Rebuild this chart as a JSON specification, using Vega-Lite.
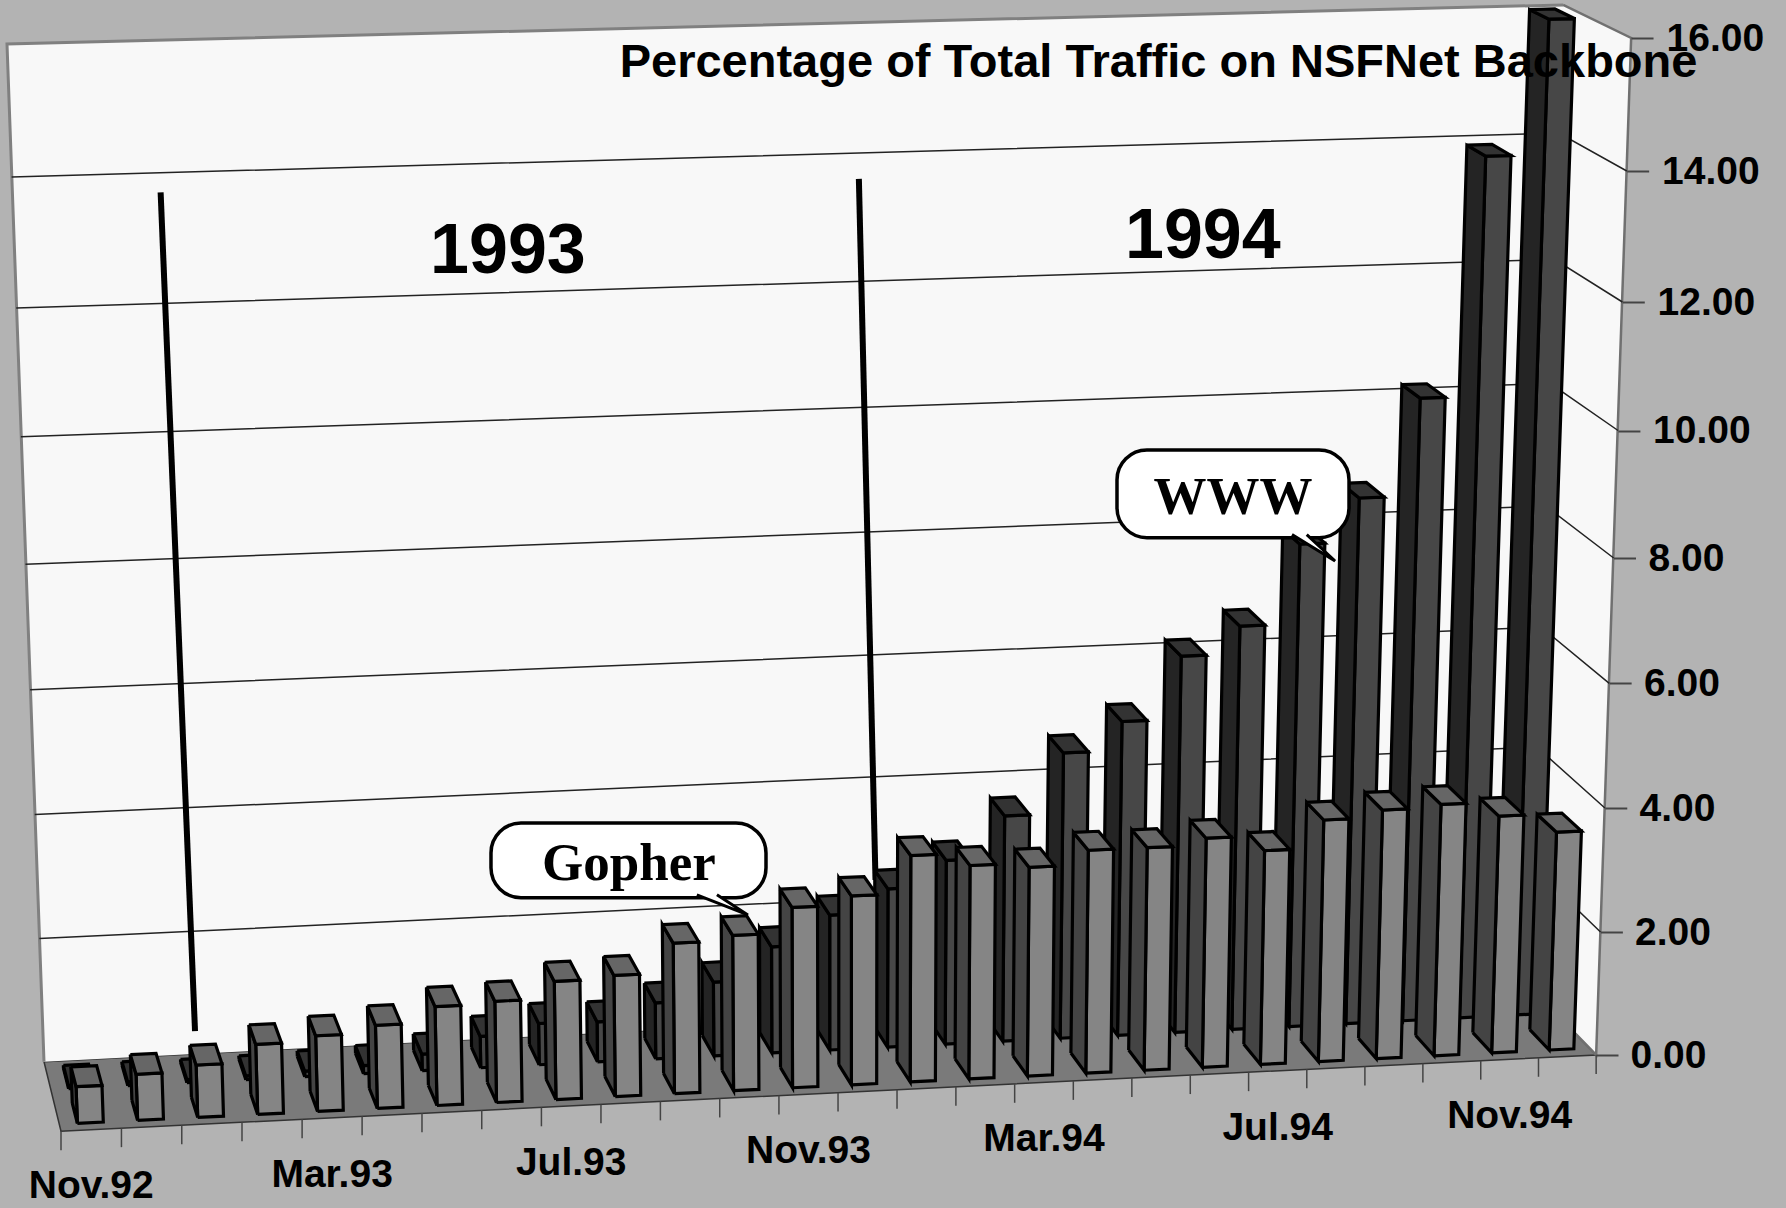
{"$schema":"https://vega.github.io/schema/vega-lite/v6.json","autosize":"none","padding":0,"width":1786,"height":1208,"background":"#b3b3b3","view":{"stroke":null},
"datasets":{"traffic":[
{"month":"Nov.92","idx":0,"series":"WWW","value":0.05},{"month":"Dec.92","idx":1,"series":"WWW","value":0.06},{"month":"Jan.93","idx":2,"series":"WWW","value":0.05},{"month":"Feb.93","idx":3,"series":"WWW","value":0.06},{"month":"Mar.93","idx":4,"series":"WWW","value":0.09},{"month":"Apr.93","idx":5,"series":"WWW","value":0.13},{"month":"May.93","idx":6,"series":"WWW","value":0.27},{"month":"Jun.93","idx":7,"series":"WWW","value":0.51},{"month":"Jul.93","idx":8,"series":"WWW","value":0.67},{"month":"Aug.93","idx":9,"series":"WWW","value":0.65},{"month":"Sep.93","idx":10,"series":"WWW","value":0.91},{"month":"Oct.93","idx":11,"series":"WWW","value":1.2},{"month":"Nov.93","idx":12,"series":"WWW","value":1.73},{"month":"Dec.93","idx":13,"series":"WWW","value":2.2},{"month":"Jan.94","idx":14,"series":"WWW","value":2.58},{"month":"Feb.94","idx":15,"series":"WWW","value":3.0},{"month":"Mar.94","idx":16,"series":"WWW","value":3.68},{"month":"Apr.94","idx":17,"series":"WWW","value":4.66},{"month":"May.94","idx":18,"series":"WWW","value":5.13},{"month":"Jun.94","idx":19,"series":"WWW","value":6.15},{"month":"Jul.94","idx":20,"series":"WWW","value":6.6},{"month":"Aug.94","idx":21,"series":"WWW","value":7.89},{"month":"Sep.94","idx":22,"series":"WWW","value":8.59},{"month":"Oct.94","idx":23,"series":"WWW","value":10.15},{"month":"Nov.94","idx":24,"series":"WWW","value":13.92},{"month":"Dec.94","idx":25,"series":"WWW","value":16.0},
{"month":"Nov.92","idx":0,"series":"Gopher","value":0.58},{"month":"Dec.92","idx":1,"series":"Gopher","value":0.73},{"month":"Jan.93","idx":2,"series":"Gopher","value":0.83},{"month":"Feb.93","idx":3,"series":"Gopher","value":1.11},{"month":"Mar.93","idx":4,"series":"Gopher","value":1.2},{"month":"Apr.93","idx":5,"series":"Gopher","value":1.32},{"month":"May.93","idx":6,"series":"Gopher","value":1.57},{"month":"Jun.93","idx":7,"series":"Gopher","value":1.61},{"month":"Jul.93","idx":8,"series":"Gopher","value":1.88},{"month":"Aug.93","idx":9,"series":"Gopher","value":1.93},{"month":"Sep.93","idx":10,"series":"Gopher","value":2.4},{"month":"Oct.93","idx":11,"series":"Gopher","value":2.48},{"month":"Nov.93","idx":12,"series":"Gopher","value":2.88},{"month":"Dec.93","idx":13,"series":"Gopher","value":3.02},{"month":"Jan.94","idx":14,"series":"Gopher","value":3.62},{"month":"Feb.94","idx":15,"series":"Gopher","value":3.42},{"month":"Mar.94","idx":16,"series":"Gopher","value":3.35},{"month":"Apr.94","idx":17,"series":"Gopher","value":3.58},{"month":"May.94","idx":18,"series":"Gopher","value":3.58},{"month":"Jun.94","idx":19,"series":"Gopher","value":3.69},{"month":"Jul.94","idx":20,"series":"Gopher","value":3.45},{"month":"Aug.94","idx":21,"series":"Gopher","value":3.9},{"month":"Sep.94","idx":22,"series":"Gopher","value":4.02},{"month":"Oct.94","idx":23,"series":"Gopher","value":4.07},{"month":"Nov.94","idx":24,"series":"Gopher","value":3.84},{"month":"Dec.94","idx":25,"series":"Gopher","value":3.54}
]},
"encoding":{
"x":{"field":"X","type":"quantitative","scale":{"domain":[-1.0332,29.2175],"range":[0,1786],"nice":false,"zero":false},"axis":null},
"y":{"field":"Y","type":"quantitative","scale":{"domain":[-2,0,2,4,6,8,10,12,14,16,18],"range":[1177,1055,932,808,683.4,558,430.5,302,171,38,-97],"nice":false,"zero":false},
"axis":{"orient":"right","offset":-190,"zindex":1,"values":[0,2,4,6,8,10,12,14,16],"format":".2f","title":null,"domain":false,"grid":false,"ticks":true,"tickSize":22,"tickColor":"#444444","tickWidth":2,"labelFont":"Liberation Sans","labelFontWeight":"bold","labelFontSize":39,"labelColor":"#000000","labelPadding":12,"labelBound":false,"labelFlush":false,"labelOverlap":false,"labelAlign":"left","labelBaseline":"middle",
"encoding":{"labels":{"dx":{"value":{"expr":"datum.value*2.25"}}},"ticks":{"x":{"value":{"expr":"datum.value*2.19"}},"x2":{"value":{"expr":"datum.value*2.19+22"}}}}}}
},
"layer":[
{"data":{"values":[
{"surface":"floor","corner":0,"kk":0,"dd":0,"vv":0},{"surface":"floor","corner":1,"kk":26,"dd":0,"vv":0},{"surface":"floor","corner":2,"kk":26,"dd":1,"vv":0},{"surface":"floor","corner":3,"kk":0,"dd":1,"vv":0},{"surface":"floor","corner":4,"kk":0,"dd":0,"vv":0}]},
"transform":[{"calculate":"(60.5*datum.kk-0.056*datum.kk*datum.kk)/1535","as":"u"},{"calculate":"(1-datum.dd)*(44+1484*datum.u)+datum.dd*(61+1535*datum.u)","as":"xb"},{"calculate":"(1-datum.dd)*(7+1556*datum.u)+datum.dd*(23+1608*datum.u)","as":"xt"},{"calculate":"(datum.xb+(datum.xt-datum.xb)*datum.vv/16-61)/59.04","as":"X"},{"calculate":"(1-datum.dd)*(-0.11+1.25*datum.u)+datum.dd*(-1.25+1.25*datum.u)","as":"yb"},{"calculate":"(1-datum.dd)*(15.91+0.58*datum.u)+datum.dd*(15.44+0.56*datum.u)","as":"yt"},{"calculate":"datum.yb+(datum.yt-datum.yb)*datum.vv/16","as":"Y"}],
"mark":{"type":"line","fill":"#7a7a7a","stroke":"#333333","strokeWidth":1.5},"encoding":{"order":{"field":"corner"},"detail":{"field":"surface"}}},
{"data":{"values":[
{"surface":"back","corner":0,"kk":0,"dd":0,"vv":0},{"surface":"back","corner":1,"kk":0,"dd":0,"vv":16},{"surface":"back","corner":2,"kk":26,"dd":0,"vv":16},{"surface":"back","corner":3,"kk":26,"dd":0,"vv":0}]},
"transform":[{"calculate":"(60.5*datum.kk-0.056*datum.kk*datum.kk)/1535","as":"u"},{"calculate":"(1-datum.dd)*(44+1484*datum.u)+datum.dd*(61+1535*datum.u)","as":"xb"},{"calculate":"(1-datum.dd)*(7+1556*datum.u)+datum.dd*(23+1608*datum.u)","as":"xt"},{"calculate":"(datum.xb+(datum.xt-datum.xb)*datum.vv/16-61)/59.04","as":"X"},{"calculate":"(1-datum.dd)*(-0.11+1.25*datum.u)+datum.dd*(-1.25+1.25*datum.u)","as":"yb"},{"calculate":"(1-datum.dd)*(15.91+0.58*datum.u)+datum.dd*(15.44+0.56*datum.u)","as":"yt"},{"calculate":"datum.yb+(datum.yt-datum.yb)*datum.vv/16","as":"Y"}],
"mark":{"type":"line","fill":"#f8f8f8","strokeWidth":0,"strokeOpacity":0},"encoding":{"order":{"field":"corner"},"detail":{"field":"surface"}}},
{"data":{"values":[
{"surface":"right","corner":0,"kk":26,"dd":0,"vv":16},{"surface":"right","corner":1,"kk":26,"dd":1,"vv":16},{"surface":"right","corner":2,"kk":26,"dd":1,"vv":0},{"surface":"right","corner":3,"kk":26,"dd":0,"vv":0}]},
"transform":[{"calculate":"(60.5*datum.kk-0.056*datum.kk*datum.kk)/1535","as":"u"},{"calculate":"(1-datum.dd)*(44+1484*datum.u)+datum.dd*(61+1535*datum.u)","as":"xb"},{"calculate":"(1-datum.dd)*(7+1556*datum.u)+datum.dd*(23+1608*datum.u)","as":"xt"},{"calculate":"(datum.xb+(datum.xt-datum.xb)*datum.vv/16-61)/59.04","as":"X"},{"calculate":"(1-datum.dd)*(-0.11+1.25*datum.u)+datum.dd*(-1.25+1.25*datum.u)","as":"yb"},{"calculate":"(1-datum.dd)*(15.91+0.58*datum.u)+datum.dd*(15.44+0.56*datum.u)","as":"yt"},{"calculate":"datum.yb+(datum.yt-datum.yb)*datum.vv/16","as":"Y"}],
"mark":{"type":"line","fill":"#f8f8f8","stroke":"#707070","strokeWidth":2.5},"encoding":{"order":{"field":"corner"},"detail":{"field":"surface"}}},
{"data":{"values":[
{"edge":"wall","corner":0,"kk":0,"dd":0,"vv":0},{"edge":"wall","corner":1,"kk":0,"dd":0,"vv":16},{"edge":"wall","corner":2,"kk":26,"dd":0,"vv":16}]},
"transform":[{"calculate":"(60.5*datum.kk-0.056*datum.kk*datum.kk)/1535","as":"u"},{"calculate":"(1-datum.dd)*(44+1484*datum.u)+datum.dd*(61+1535*datum.u)","as":"xb"},{"calculate":"(1-datum.dd)*(7+1556*datum.u)+datum.dd*(23+1608*datum.u)","as":"xt"},{"calculate":"(datum.xb+(datum.xt-datum.xb)*datum.vv/16-61)/59.04","as":"X"},{"calculate":"(1-datum.dd)*(-0.11+1.25*datum.u)+datum.dd*(-1.25+1.25*datum.u)","as":"yb"},{"calculate":"(1-datum.dd)*(15.91+0.58*datum.u)+datum.dd*(15.44+0.56*datum.u)","as":"yt"},{"calculate":"datum.yb+(datum.yt-datum.yb)*datum.vv/16","as":"Y"}],
"mark":{"type":"line","stroke":"#808080","strokeWidth":3},"encoding":{"order":{"field":"corner"},"detail":{"field":"edge"}}},
{"data":{"values":[
{"tick":2,"corner":0,"kk":0,"dd":0,"vv":2},{"tick":2,"corner":1,"kk":26,"dd":0,"vv":2},{"tick":2,"corner":2,"kk":26,"dd":1,"vv":2},
{"tick":4,"corner":0,"kk":0,"dd":0,"vv":4},{"tick":4,"corner":1,"kk":26,"dd":0,"vv":4},{"tick":4,"corner":2,"kk":26,"dd":1,"vv":4},
{"tick":6,"corner":0,"kk":0,"dd":0,"vv":6},{"tick":6,"corner":1,"kk":26,"dd":0,"vv":6},{"tick":6,"corner":2,"kk":26,"dd":1,"vv":6},
{"tick":8,"corner":0,"kk":0,"dd":0,"vv":8},{"tick":8,"corner":1,"kk":26,"dd":0,"vv":8},{"tick":8,"corner":2,"kk":26,"dd":1,"vv":8},
{"tick":10,"corner":0,"kk":0,"dd":0,"vv":10},{"tick":10,"corner":1,"kk":26,"dd":0,"vv":10},{"tick":10,"corner":2,"kk":26,"dd":1,"vv":10},
{"tick":12,"corner":0,"kk":0,"dd":0,"vv":12},{"tick":12,"corner":1,"kk":26,"dd":0,"vv":12},{"tick":12,"corner":2,"kk":26,"dd":1,"vv":12},
{"tick":14,"corner":0,"kk":0,"dd":0,"vv":14},{"tick":14,"corner":1,"kk":26,"dd":0,"vv":14},{"tick":14,"corner":2,"kk":26,"dd":1,"vv":14}]},
"transform":[{"calculate":"(60.5*datum.kk-0.056*datum.kk*datum.kk)/1535","as":"u"},{"calculate":"(1-datum.dd)*(44+1484*datum.u)+datum.dd*(61+1535*datum.u)","as":"xb"},{"calculate":"(1-datum.dd)*(7+1556*datum.u)+datum.dd*(23+1608*datum.u)","as":"xt"},{"calculate":"(datum.xb+(datum.xt-datum.xb)*datum.vv/16-61)/59.04","as":"X"},{"calculate":"(1-datum.dd)*(-0.11+1.25*datum.u)+datum.dd*(-1.25+1.25*datum.u)","as":"yb"},{"calculate":"(1-datum.dd)*(15.91+0.58*datum.u)+datum.dd*(15.44+0.56*datum.u)","as":"yt"},{"calculate":"datum.yb+(datum.yt-datum.yb)*datum.vv/16","as":"Y"}],
"mark":{"type":"line","stroke":"#222222","strokeWidth":1.5},"encoding":{"order":{"field":"corner"},"detail":{"field":"tick"}}},
{"data":{"values":[
{"year":"1993","corner":0,"kk":2.44,"dd":0,"vv":13.7},{"year":"1993","corner":1,"kk":2.6,"dd":0,"vv":0.37},
{"year":"1994","corner":0,"kk":14.08,"dd":0,"vv":13.6},{"year":"1994","corner":1,"kk":14.4,"dd":0,"vv":2.3}]},
"transform":[{"calculate":"(60.5*datum.kk-0.056*datum.kk*datum.kk)/1535","as":"u"},{"calculate":"(1-datum.dd)*(44+1484*datum.u)+datum.dd*(61+1535*datum.u)","as":"xb"},{"calculate":"(1-datum.dd)*(7+1556*datum.u)+datum.dd*(23+1608*datum.u)","as":"xt"},{"calculate":"(datum.xb+(datum.xt-datum.xb)*datum.vv/16-61)/59.04","as":"X"},{"calculate":"(1-datum.dd)*(-0.11+1.25*datum.u)+datum.dd*(-1.25+1.25*datum.u)","as":"yb"},{"calculate":"(1-datum.dd)*(15.91+0.58*datum.u)+datum.dd*(15.44+0.56*datum.u)","as":"yt"},{"calculate":"datum.yb+(datum.yt-datum.yb)*datum.vv/16","as":"Y"}],
"mark":{"type":"line","stroke":"#000000","strokeWidth":6},"encoding":{"order":{"field":"corner"},"detail":{"field":"year"}}},
{"data":{"name":"traffic"},
"transform":[{"filter":"datum.series=='WWW'"},{"calculate":"[0,1,2]","as":"face"},{"flatten":["face"]},{"calculate":"[0,1,2,3,4]","as":"corner"},{"flatten":["corner"]},
{"calculate":"datum.series+' '+['front','side','top'][datum.face]","as":"shade"},
{"calculate":"datum.idx+0.3+0.43*[[0,1,1,0,0],[0,0,0,0,0],[0,1,1,0,0]][datum.face][datum.corner]","as":"kk"},
{"calculate":"(datum.series=='WWW'?0.11:0.61)+0.29*[[1,1,1,1,1],[0,1,1,0,0],[0,0,1,1,0]][datum.face][datum.corner]","as":"dd"},
{"calculate":"datum.value*[[0,0,1,1,0],[0,0,1,1,0],[1,1,1,1,1]][datum.face][datum.corner]","as":"vv"},
{"calculate":"(60.5*datum.kk-0.056*datum.kk*datum.kk)/1535","as":"u"},{"calculate":"(1-datum.dd)*(44+1484*datum.u)+datum.dd*(61+1535*datum.u)","as":"xb"},{"calculate":"(1-datum.dd)*(7+1556*datum.u)+datum.dd*(23+1608*datum.u)","as":"xt"},{"calculate":"(datum.xb+(datum.xt-datum.xb)*datum.vv/16-61)/59.04","as":"X"},{"calculate":"(1-datum.dd)*(-0.11+1.25*datum.u)+datum.dd*(-1.25+1.25*datum.u)","as":"yb"},{"calculate":"(1-datum.dd)*(15.91+0.58*datum.u)+datum.dd*(15.44+0.56*datum.u)","as":"yt"},{"calculate":"datum.yb+(datum.yt-datum.yb)*datum.vv/16","as":"Y"}],
"mark":{"type":"line","stroke":"#000000","strokeWidth":3.2,"strokeJoin":"miter"},
"encoding":{"order":{"field":"corner"},"detail":{"field":"idx"},"fill":{"field":"shade","type":"nominal","legend":null,"scale":{"domain":["WWW front","WWW side","WWW top","Gopher front","Gopher side","Gopher top"],"range":["#474747","#242424","#333333","#858585","#444444","#666666"]}}}},
{"data":{"name":"traffic"},
"transform":[{"filter":"datum.series=='Gopher'"},{"calculate":"[0,1,2]","as":"face"},{"flatten":["face"]},{"calculate":"[0,1,2,3,4]","as":"corner"},{"flatten":["corner"]},
{"calculate":"datum.series+' '+['front','side','top'][datum.face]","as":"shade"},
{"calculate":"datum.idx+0.3+0.43*[[0,1,1,0,0],[0,0,0,0,0],[0,1,1,0,0]][datum.face][datum.corner]","as":"kk"},
{"calculate":"(datum.series=='WWW'?0.11:0.61)+0.29*[[1,1,1,1,1],[0,1,1,0,0],[0,0,1,1,0]][datum.face][datum.corner]","as":"dd"},
{"calculate":"datum.value*[[0,0,1,1,0],[0,0,1,1,0],[1,1,1,1,1]][datum.face][datum.corner]","as":"vv"},
{"calculate":"(60.5*datum.kk-0.056*datum.kk*datum.kk)/1535","as":"u"},{"calculate":"(1-datum.dd)*(44+1484*datum.u)+datum.dd*(61+1535*datum.u)","as":"xb"},{"calculate":"(1-datum.dd)*(7+1556*datum.u)+datum.dd*(23+1608*datum.u)","as":"xt"},{"calculate":"(datum.xb+(datum.xt-datum.xb)*datum.vv/16-61)/59.04","as":"X"},{"calculate":"(1-datum.dd)*(-0.11+1.25*datum.u)+datum.dd*(-1.25+1.25*datum.u)","as":"yb"},{"calculate":"(1-datum.dd)*(15.91+0.58*datum.u)+datum.dd*(15.44+0.56*datum.u)","as":"yt"},{"calculate":"datum.yb+(datum.yt-datum.yb)*datum.vv/16","as":"Y"}],
"mark":{"type":"line","stroke":"#000000","strokeWidth":3.2,"strokeJoin":"miter"},
"encoding":{"order":{"field":"corner"},"detail":{"field":"idx"},"fill":{"field":"shade","type":"nominal","legend":null,"scale":{"domain":["WWW front","WWW side","WWW top","Gopher front","Gopher side","Gopher top"],"range":["#474747","#242424","#333333","#858585","#444444","#666666"]}}}},
{"data":{"values":[
{"k":0},{"k":1},{"k":2},{"k":3},{"k":4},{"k":5},{"k":6},{"k":7},{"k":8},{"k":9},{"k":10},{"k":11},{"k":12},{"k":13},{"k":14},{"k":15},{"k":16},{"k":17},{"k":18},{"k":19},{"k":20},{"k":21},{"k":22},{"k":23},{"k":24},{"k":25},{"k":26}]},
"transform":[{"calculate":"datum.k","as":"kk"},{"calculate":"1","as":"dd"},{"calculate":"0","as":"vv"},{"calculate":"(60.5*datum.kk-0.056*datum.kk*datum.kk)/1535","as":"u"},{"calculate":"(1-datum.dd)*(44+1484*datum.u)+datum.dd*(61+1535*datum.u)","as":"xb"},{"calculate":"(1-datum.dd)*(7+1556*datum.u)+datum.dd*(23+1608*datum.u)","as":"xt"},{"calculate":"(datum.xb+(datum.xt-datum.xb)*datum.vv/16-61)/59.04","as":"X"},{"calculate":"(1-datum.dd)*(-0.11+1.25*datum.u)+datum.dd*(-1.25+1.25*datum.u)","as":"yb"},{"calculate":"(1-datum.dd)*(15.91+0.58*datum.u)+datum.dd*(15.44+0.56*datum.u)","as":"yt"},{"calculate":"datum.yb+(datum.yt-datum.yb)*datum.vv/16","as":"Y"},{"calculate":"datum.Y-0.31","as":"Y2"}],
"mark":{"type":"rule","stroke":"#444444","strokeWidth":1.5},"encoding":{"y2":{"field":"Y2"}}},
{"data":{"name":"traffic"},
"transform":[{"filter":"datum.series=='Gopher'"},{"calculate":"datum.idx+0.5","as":"kk"},{"calculate":"(60.5*datum.kk-0.056*datum.kk*datum.kk)/1535","as":"u"},{"calculate":"(61+1535*datum.u-61)/59.04","as":"X"},{"calculate":"-1.25+1.25*datum.u-0.93","as":"Y"},{"filter":"datum.idx%4==0"}],
"mark":{"type":"text","font":"Liberation Sans","fontWeight":"bold","fontSize":39,"align":"center","baseline":"middle","color":"#000000"},"encoding":{"text":{"field":"month"}}},
{"data":{"values":[{"box":"Gopher","X":7.283,"X2":11.941,"Y":3.758,"Y2":2.553},{"box":"WWW","X":17.886,"X2":21.816,"Y":9.694,"Y2":8.319}]},
"mark":{"type":"rect","fill":"#ffffff","stroke":"#000000","strokeWidth":3.5,"cornerRadius":30},"encoding":{"x2":{"field":"X2"},"y2":{"field":"Y2"}}},
{"data":{"values":[
{"box":"Gopher","corner":0,"X":10.77,"Y":2.6},{"box":"Gopher","corner":1,"X":11.635,"Y":2.276},{"box":"Gopher","corner":2,"X":11.11,"Y":2.6},
{"box":"WWW","corner":0,"X":20.85,"Y":8.367},{"box":"WWW","corner":1,"X":21.58,"Y":7.952},{"box":"WWW","corner":2,"X":21.1,"Y":8.367}]},
"mark":{"type":"line","fill":"#ffffff","stroke":"#000000","strokeWidth":3},"encoding":{"order":{"field":"corner"},"detail":{"field":"box"}}},
{"data":{"values":[{"label":"Gopher","X":9.62,"Y":2.846},{"label":"WWW","X":19.85,"Y":8.69}]},
"mark":{"type":"text","font":"Liberation Serif","fontWeight":"bold","fontSize":53,"align":"center","baseline":"alphabetic","color":"#000000"},"encoding":{"text":{"field":"label"}}},
{"data":{"values":[{"label":"1993","X":7.57,"Y":12.44},{"label":"1994","X":19.34,"Y":12.67}]},
"mark":{"type":"text","font":"Liberation Sans","fontWeight":"bold","fontSize":70,"align":"center","baseline":"alphabetic","color":"#000000"},"encoding":{"text":{"field":"label"}}},
{"data":{"values":[{"label":"Percentage of Total Traffic on NSFNet Backbone","X":18.59,"Y":15.41}]},
"mark":{"type":"text","font":"Liberation Sans","fontWeight":"bold","fontSize":47,"align":"center","baseline":"alphabetic","color":"#000000"},"encoding":{"text":{"field":"label"}}}
]}
